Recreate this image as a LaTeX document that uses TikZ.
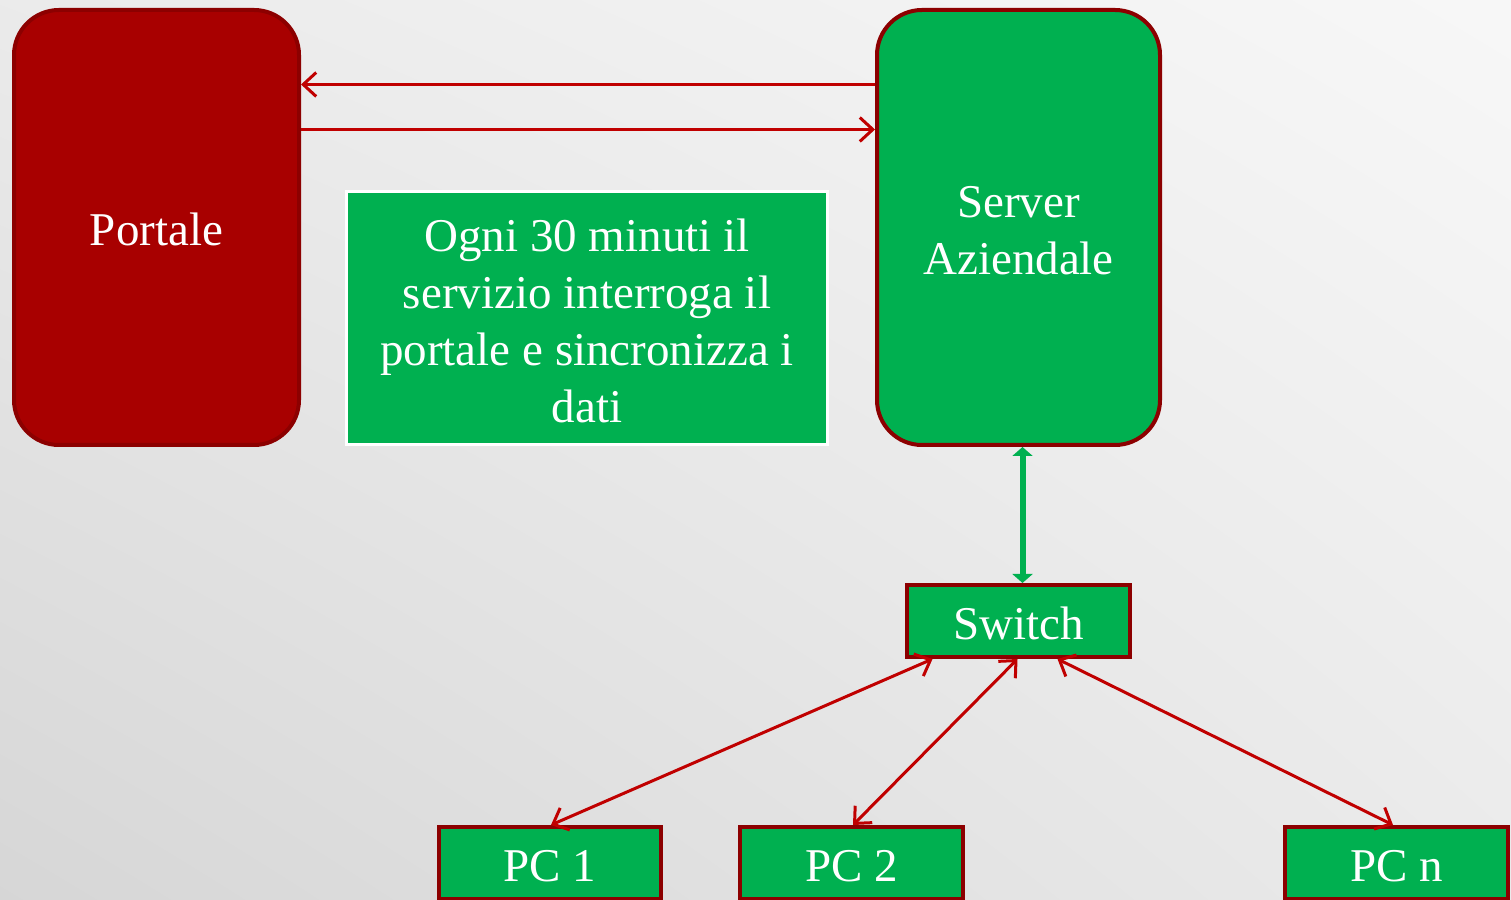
\documentclass[tikz,border=0pt]{standalone}
\usepackage{fontspec}
\setmainfont{Liberation Serif}
\usetikzlibrary{arrows.meta,shadings}
\definecolor{rosso}{RGB}{168,0,0}
\definecolor{bordo}{RGB}{140,0,0}
\definecolor{freccia}{RGB}{192,0,0}
\definecolor{verde}{RGB}{0,176,80}
\tikzset{
  box/.style={draw=bordo,line width=4pt,fill=verde,text=white,inner sep=0pt,align=center,
    font=\fontsize{47}{57}\selectfont},
  riga/.style={text height=37pt,text depth=0pt},
  link/.style={draw=freccia,line width=3pt,{Straight Barb[length=13pt,width=24pt]}-{Straight Barb[length=13pt,width=24pt]}}
}
\begin{document}
\begin{tikzpicture}[x=1pt,y=1pt]
		\def\alza{\rule{0pt}{38pt}} % prima riga un po' piu' alta
		\useasboundingbox (0,0) rectangle (1511,899);
		\clip (0,0) rectangle (1511,899);
		\shade[lower left=black!16,upper right=black!3,upper left=black!8,lower right=black!8] (0,0) rectangle (1511,899);
		% nodi
		\node[box,riga,fill=rosso,rounded corners=45pt,minimum width=285,minimum height=435] (portale) at (156.5,671.5) {Portale};
		\node[box,rounded corners=45pt,minimum width=283,minimum height=435] (server) at (1018.5,671.5) {\alza Server\\Aziendale};
		\node[box,draw=white,line width=3pt,minimum width=481,minimum height=253] (nota) at (587,581) {\alza Ogni 30 minuti il\\servizio interroga il\\portale e sincronizza i\\dati};
		\node[box,riga,minimum width=223,minimum height=72] (switch) at (1018.5,278) {Switch};
		\node[box,riga,minimum width=222,minimum height=72] (pc1) at (550,36) {PC 1};
		\node[box,riga,minimum width=223,minimum height=72] (pc2) at (851.5,36) {PC 2};
		\node[box,riga,minimum width=223,minimum height=72] (pcn) at (1396.5,36) {PC n};
		% collegamenti
		\draw[link,-{Straight Barb[length=13pt,width=24pt]}] ([yshift=143pt]server.west) -- ([yshift=143pt]portale.east);
		\draw[link,-{Straight Barb[length=13pt,width=24pt]}] ([yshift=98pt]portale.east) -- ([yshift=98pt]server.west);
		\draw[verde,line width=6pt,{Triangle[length=9pt,width=20pt]}-{Triangle[length=9pt,width=20pt]}] ([xshift=4pt]server.south) -- ([xshift=4pt]switch.north);
		\draw[link] ([xshift=-86pt]switch.south) -- ([xshift=1pt]pc1.north);
		\draw[link] ([xshift=-1pt]switch.south) -- ([xshift=1.5pt]pc2.north);
		\draw[link] ([xshift=39pt]switch.south) -- ([xshift=-3.5pt]pcn.north);
\end{tikzpicture}
\end{document}
